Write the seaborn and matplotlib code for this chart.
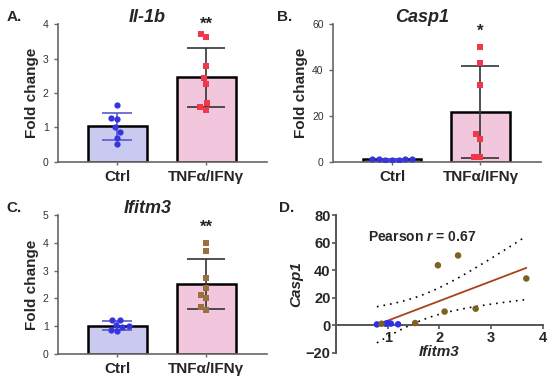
import numpy as np
import pandas as pd
import matplotlib
matplotlib.use('Agg')
import matplotlib.pyplot as plt
import seaborn as sns

# ── data ────────────────────────────────────────────────────────────────────
groups = ['Ctrl', 'TNFα/IFNγ']

il1b_ctrl = [1.64, 1.24, 1.27, 1.00, 0.86, 0.70, 0.52]
il1b_tnf = [3.72, 3.62, 2.77, 2.43, 2.26, 1.70, 1.60, 1.52]

casp1_ctrl = [0.9, 1.2, 1.5, 1.3, 0.8, 1.0, 1.4]
casp1_tnf = [50.0, 43.0, 33.5, 12.0, 10.0, 2.0, 2.0]

ifitm3_ctrl = [1.24, 1.24, 1.05, 1.00, 0.97, 0.83, 0.87]
ifitm3_tnf = [3.98, 3.70, 2.72, 2.39, 2.12, 2.00, 1.70, 1.58]

# panel D: Ifitm3 (x) vs Casp1 (y)
corr_ctrl_x = [0.79, 0.96, 1.00, 1.06, 1.20]
corr_ctrl_y = [0.7, 1.2, 1.5, 1.3, 0.8]
corr_tnf_x = [0.88, 1.53, 1.97, 2.10, 2.36, 2.70, 3.68]
corr_tnf_y = [1.2, 1.7, 43.6, 10.0, 50.7, 12.1, 34.0]
pearson_label = '0.67'

stars = {'Il-1b': '**', 'Casp1': '*', 'Ifitm3': '**'}

# ── style ────────────────────────────────────────────────────────────────────
sns.set_style('ticks')
plt.rcParams['font.family'] = ['Liberation Sans', 'DejaVu Sans']
plt.rcParams['mathtext.fontset'] = 'custom'
plt.rcParams['mathtext.it'] = 'Liberation Sans:bold:italic'

bar_colors = ['#c4c4f6', '#f9c0dd']
err_colors = ['#5a5ad0', '#333333']
cap_sizes = [11, 14]
spine_col = '#666666'


def long_df(ctrl, tnf):
    return pd.DataFrame({
        'group': ['Ctrl'] * len(ctrl) + ['TNFα/IFNγ'] * len(tnf),
        'value': list(ctrl) + list(tnf),
    })


def bar_panel(ax, ctrl, tnf, title, ymax, ystep, pt_color, star_y):
    df = long_df(ctrl, tnf)
    sns.barplot(data=df, x='group', y='value', hue='group', order=groups,
                palette=bar_colors, errorbar=None, width=0.66,
                edgecolor='black', linewidth=1.8, legend=False, ax=ax)
    # mean ± SD whiskers
    stats = df.groupby('group')['value'].agg(['mean', 'std']).reindex(groups)
    for i, g in enumerate(groups):
        ax.errorbar(i, stats.loc[g, 'mean'], yerr=stats.loc[g, 'std'],
                    color=err_colors[i], capsize=cap_sizes[i],
                    elinewidth=1.2, capthick=1.2, zorder=3)
    sns.swarmplot(data=df[df.group == 'Ctrl'], x='group', y='value',
                  order=groups, color='#3535e0', marker='o', size=4.5,
                  ax=ax, zorder=4)
    sns.swarmplot(data=df[df.group != 'Ctrl'], x='group', y='value',
                  order=groups, color=pt_color, marker='s', size=4.5,
                  ax=ax, zorder=4)
    ax.set_xlim(-0.67, 1.68)
    ax.set_ylim(0, ymax)
    ax.set_yticks(np.arange(0, ymax + 0.01, ystep))
    ax.set_xlabel('')
    ax.set_ylabel('Fold change', fontsize=11, fontweight='bold', labelpad=3)
    ax.text(0.43, 1.045, title, transform=ax.transAxes, ha='center',
            va='center', fontsize=13, fontweight='bold', style='italic')
    ax.tick_params(axis='y', labelsize=7.5, colors='#333333', length=3,
                   width=1, color=spine_col)
    ax.tick_params(axis='x', labelsize=11, length=2, width=1, color=spine_col)
    for lab in ax.get_xticklabels():
        lab.set_fontweight('bold')
    for s in ['left', 'bottom']:
        ax.spines[s].set_color(spine_col)
        ax.spines[s].set_linewidth(1.2)
    sns.despine(ax=ax)
    ax.text(1, star_y, stars[title], ha='center', va='center',
            fontsize=12, fontweight='bold', color='#222222', clip_on=False)


fig = plt.figure(figsize=(5.5, 3.82), dpi=100)

ax_a = fig.add_axes([0.105, 0.576, 0.380, 0.361])
ax_b = fig.add_axes([0.605, 0.576, 0.378, 0.361])
ax_c = fig.add_axes([0.105, 0.073, 0.380, 0.364])
ax_d = fig.add_axes([0.611, 0.076, 0.376, 0.361])

bar_panel(ax_a, il1b_ctrl, il1b_tnf, 'Il-1b', 4, 1, '#f03848', 3.98)
bar_panel(ax_b, casp1_ctrl, casp1_tnf, 'Casp1', 60, 20, '#f03848', 57)
bar_panel(ax_c, ifitm3_ctrl, ifitm3_tnf, 'Ifitm3', 5, 1, '#9a7040', 4.55)

# ── panel D: correlation ─────────────────────────────────────────────────────
corr = pd.DataFrame({
    'x': corr_ctrl_x + corr_tnf_x,
    'y': corr_ctrl_y + corr_tnf_y,
    'group': ['Ctrl'] * len(corr_ctrl_x) + ['TNFα/IFNγ'] * len(corr_tnf_x),
})
sns.scatterplot(data=corr, x='x', y='y', hue='group', hue_order=groups,
                palette=['#2f2fe8', '#7d6220'], s=22, edgecolor='none',
                legend=False, ax=ax_d, zorder=4)

# least squares fit with 95% confidence band of the mean
slope, icpt = np.polyfit(corr.x, corr.y, 1)
xs = np.linspace(corr.x.min(), corr.x.max(), 100)
fit = icpt + slope * xs
n = len(corr)
resid = corr.y - (icpt + slope * corr.x)
s_err = np.sqrt((resid ** 2).sum() / (n - 2))
sxx = ((corr.x - corr.x.mean()) ** 2).sum()
band = 2.228 * s_err * np.sqrt(1 / n + (xs - corr.x.mean()) ** 2 / sxx)
sns.lineplot(x=xs, y=fit, color='#a8421c', linewidth=1.3, ax=ax_d, zorder=3)
ax_d.plot(xs, fit + band, color='black', linestyle=(0, (1, 3)), linewidth=1.2)
ax_d.plot(xs, fit - band, color='black', linestyle=(0, (1, 3)), linewidth=1.2)

ax_d.set_xlim(0, 4)
ax_d.set_ylim(-20, 80)
ax_d.set_xticks([1, 2, 3, 4])
ax_d.set_yticks([-20, 0, 20, 40, 60, 80])
ax_d.spines['bottom'].set_position(('data', 0))
for s in ['left', 'bottom']:
    ax_d.spines[s].set_color('#555555')
    ax_d.spines[s].set_linewidth(1.4)
sns.despine(ax=ax_d)
ax_d.tick_params(labelsize=10.5, length=3, width=1.2, color='#555555',
                 pad=1)
for lab in ax_d.get_xticklabels() + ax_d.get_yticklabels():
    lab.set_fontweight('bold')
ax_d.set_xlabel('Ifitm3', fontsize=11, fontweight='bold', style='italic',
                labelpad=0)
ax_d.set_ylabel('Casp1', fontsize=11, fontweight='bold', style='italic',
                labelpad=2)
ax_d.text(0.62, 64, 'Pearson $\\mathit{r}$ = ' + pearson_label, fontsize=10,
          fontweight='bold', va='center')

# panel letters
for lbl, (px, py) in zip('ABCD', [(0.012, 0.955), (0.503, 0.955),
                                  (0.012, 0.455), (0.507, 0.455)]):
    fig.text(px, py, lbl + '.', fontsize=11, fontweight='bold', va='center')

fig.savefig('out.png', dpi=100)
